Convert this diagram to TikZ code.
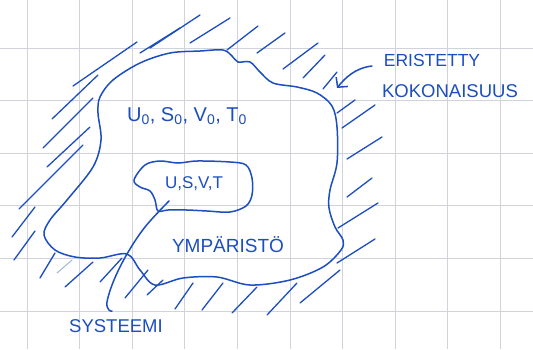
\documentclass[tikz,border=0pt]{standalone}
\usepackage{fontspec}
\setmainfont{Liberation Sans}
\usetikzlibrary{arrows.meta}
\definecolor{ink}{RGB}{28,78,192}
\definecolor{gridc}{RGB}{208,210,220}
\tikzset{
  pen/.style={draw=ink, line width=1.5pt, line cap=round, line join=round},
  hatch/.style={draw=ink, line width=1.3pt, line cap=round},
  faint/.style={draw=ink!45, line width=0.9pt, line cap=round},
  gridline/.style={draw=gridc, line width=0.8pt},
  lbl/.style={text=ink, inner sep=0pt, font=\fontsize{15}{17}\selectfont},
}
\begin{document}
\begin{tikzpicture}[x=1pt,y=-1pt]
\useasboundingbox (0,0) rectangle (533,349);
\fill[white] (0,0) rectangle (533,349);
% grid paper
\foreach \k in {0,...,9} \draw[gridline] ({27+52.6*\k},0) -- ({27+52.6*\k},349);
\foreach \k in {0,...,5} \draw[gridline] (0,{48+52.6*\k}) -- (533,{48+52.6*\k});
% outer boundary (isolated whole)
\draw[pen] plot[smooth cycle, tension=0.55] coordinates {
 (200,51) (223,50) (232,56) (238,62) (250,62) (260,72) (273,83) (297,87) (317,93)
 (332,106) (337,127) (337,163) (330,190) (329,208) (335,227) (343,240) (341,250)
 (323,267) (290,280) (250,285) (217,277) (183,278) (155,285) (140,270) (127,254)
 (100,258) (75,257) (55,250) (44,235) (50,220) (67,200) (93,167) (101,140) (98,113)
 (100,97) (113,80) (140,63) (170,53)};
% inner boundary (system)
\draw[pen] plot[smooth cycle, tension=0.55] coordinates {
 (145,165) (160,161) (178,163) (197,161) (230,162) (246,165) (252,178) (252,195)
 (246,206) (230,212) (207,211) (187,210) (168,210) (158,211) (155,200) (150,191)
 (140,187) (134,180)};
% hatching
\foreach \a/\b/\c/\d in {
 73/86/137/42, 52/119/98/75, 43/148/93/98, 140/53/180/28, 47/167/90/127,
 19/209/83/145, 12/237/35/207, 14/260/35/231, 40/278/55/253, 65/287/93/262,
 100/282/122/258, 125/298/148/270, 147/295/163/280, 175/309/193/283,
 202/310/223/283, 232/313/257/287, 267/315/297/283, 300/303/340/270,
 337/263/375/239, 338/228/378/203, 347/197/372/178, 347/159/382/137,
 342/128/375/105, 337/113/355/100,
 150/48/200/15, 190/43/230/18, 227/50/258/26, 257/53/285/33, 283/69/318/43,
 303/78/325/55, 323/89/337/72}
 \draw[hatch] (\a,\b) -- (\c,\d);
\draw[faint] (57,273) -- (72,260);
% labels
\node[lbl, font=\fontsize{17.5}{19}\selectfont] (erist) at (432,60) {ERISTETTY};
\node[lbl, font=\fontsize{18.5}{20}\selectfont] (kok) at (450,91) {KOKONAISUUS};
\node[lbl, font=\fontsize{20}{22}\selectfont] (outerstate) at (187,116) {U\textsubscript{0}, S\textsubscript{0}, V\textsubscript{0}, T\textsubscript{0}};
\node[lbl, font=\fontsize{17}{19}\selectfont] (innerstate) at (194,184) {U,S,V,T};
\node[lbl, font=\fontsize{19}{21}\selectfont] (ymp) at (228,245) {YMPÄRISTÖ};
\node[lbl, font=\fontsize{18.5}{20}\selectfont] (sys) at (116,326) {SYSTEEMI};
% pointer arrow to outer boundary
\coordinate (arrS) at (372,66);
\coordinate (arrT) at (337,88);
\draw[pen, -{Straight Barb[length=7pt,width=15pt]}] (arrS) .. controls (355,68) and (345,78) .. (arrT);
% pointer from SYSTEEMI to the system
\coordinate (sysA) at (169,201);
\coordinate (sysB) at (112,311);
\draw[pen] plot[smooth, tension=0.6] coordinates {(sysA) (145,227) (127,254) (114,280) (107,302) (109,310) (sysB)};
\end{tikzpicture}
\end{document}
